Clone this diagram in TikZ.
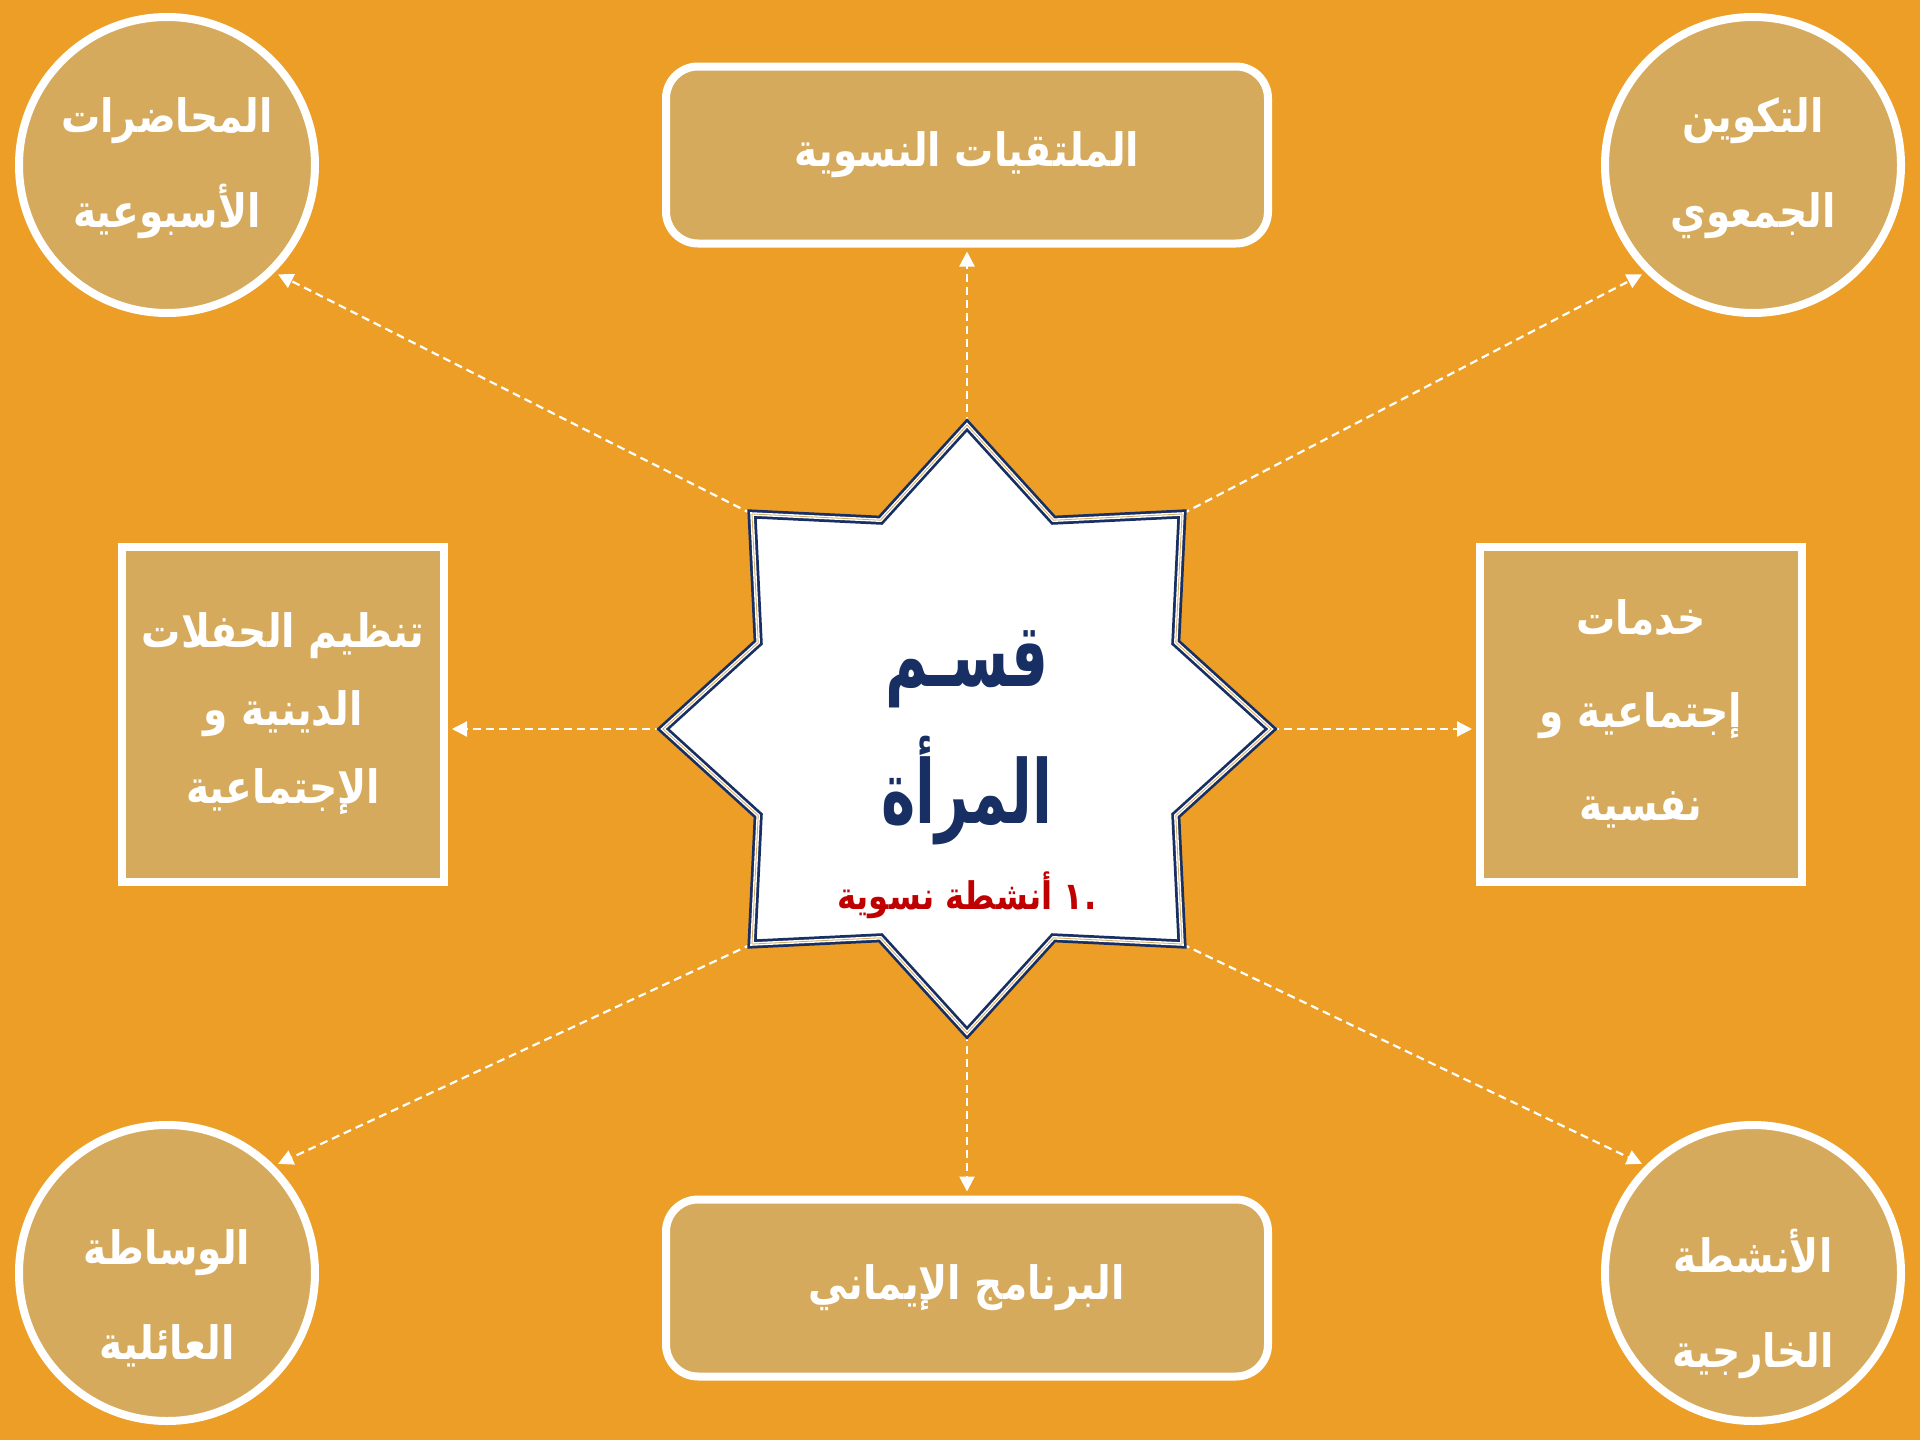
\documentclass[tikz,border=0pt]{standalone}
\usepackage{fontspec}
\newfontfamily\arabicfont[Script=Arabic,FakeStretch=0.85]{DejaVu Sans}
\newfontfamily\titlefont[Script=Arabic,FakeStretch=0.66]{DejaVu Sans}
\TeXXeTstate=1
\usetikzlibrary{arrows.meta}
\definecolor{bgorange}{HTML}{EC9E26}
\definecolor{boxfill}{HTML}{D6AA5C}
\definecolor{starnavy}{HTML}{172F63}
\definecolor{listred}{HTML}{C00000}
\newcommand\myrtl[1]{\beginR #1\endR}
\begin{document}
\begin{tikzpicture}[x=1pt,y=-1pt,
  box/.style={draw=white, line width=8pt, fill=boxfill, text=white,
    font=\arabicfont\bfseries\fontsize{46}{90}\selectfont, align=center, inner sep=0pt},
  circ/.style={box, circle, minimum size=296pt},
  rbox/.style={box, rectangle, rounded corners=32pt, minimum width=602pt, minimum height=177pt},
  sbox/.style={box, rectangle, minimum width=322pt, minimum height=335pt},
  ctext/.style={text=white, font=\arabicfont\bfseries\fontsize{46}{95}\selectfont, align=center, inner sep=0pt},
  title/.style={text=starnavy, font=\titlefont\bfseries\fontsize{88}{96}\selectfont, inner sep=0pt, anchor=base},
  link/.style={draw=white, line width=2.2pt, dash pattern=on 8pt off 5pt, shorten >=4pt,
    -{Triangle[length=15pt,width=15pt]}}
]
\fill[bgorange] (0,0) rectangle (1920,1440);
\useasboundingbox (0,0) rectangle (1920,1440);

% star vertices
\coordinate (stT)  at (967,425);
\coordinate (in1)  at (1053.5,520.2);
\coordinate (stTR) at (1182,514);
\coordinate (in2)  at (1175.8,642.5);
\coordinate (stR)  at (1271,729);
\coordinate (in3)  at (1175.8,815.5);
\coordinate (stBR) at (1182,944);
\coordinate (in4)  at (1053.5,937.8);
\coordinate (stB)  at (967,1033);
\coordinate (in5)  at (880.5,937.8);
\coordinate (stBL) at (752,944);
\coordinate (in6)  at (758.2,815.5);
\coordinate (stL)  at (663,729);
\coordinate (in7)  at (758.2,642.5);
\coordinate (stTL) at (752,514);
\coordinate (in8)  at (880.5,520.2);

% boxes
\node[rbox] (top) at (967,155) {\myrtl{الملتقيات النسوية}};
\node[rbox] (bot) at (967,1288) {\myrtl{البرنامج الإيماني}};
\node[sbox, font=\arabicfont\bfseries\fontsize{46}{78}\selectfont] (left) at (283,714)
  {\myrtl{تنظيم الحفلات}\\\myrtl{الدينية و}\\\myrtl{الإجتماعية}};
\node[sbox, font=\arabicfont\bfseries\fontsize{46}{93}\selectfont] (right) at (1641,714)
  {\myrtl{خدمات}\\\myrtl{إجتماعية و}\\\myrtl{نفسية}};

\node[circ] (ctl) at (167,165) {};
\node[circ] (ctr) at (1753,165) {};
\node[circ] (cbl) at (167,1273) {};
\node[circ] (cbr) at (1753,1273) {};

\node[ctext] (ttl) at (167,168) {\myrtl{المحاضرات}\\\myrtl{الأسبوعية}};
\node[ctext] (ttr) at (1753,168) {\myrtl{التكوين}\\\myrtl{الجمعوي}};
\node[ctext] (tbl) at (167,1298) {\myrtl{الوساطة}\\\myrtl{العائلية}};
\node[ctext] (tbr) at (1753,1304) {\myrtl{الأنشطة}\\\myrtl{الخارجية}};

% connectors
\draw[link] (stT) -- (top.south);
\draw[link] (stB) -- (bot.north);
\draw[link] (stL) -- (stL -| left.east);
\draw[link] (stR) -- (stR -| right.west);
\draw[link] (stTL) -- (ctl.south east);
\draw[link] (stTR) -- (ctr.south west);
\draw[link] (stBL) -- (cbl.north east);
\draw[link] (stBR) -- (cbr.north west);

% star
\draw[starnavy, line width=9pt, fill=white, line join=miter,
  postaction={draw=white, line width=3.5pt, line join=miter},
  postaction={draw=boxfill, line width=0.8pt, line join=miter}]
  (stT) -- (in1) -- (stTR) -- (in2) -- (stR) -- (in3) -- (stBR) -- (in4) --
  (stB) -- (in5) -- (stBL) -- (in6) -- (stL) -- (in7) -- (stTL) -- (in8) -- cycle;

\node[title] (t1) at (967,686) {قسـم};
\node[title] (t2) at (967,823) {المرأة};
\node[title, text=listred, font=\arabicfont\bfseries\fontsize{38}{44}\selectfont] (t3) at (967,909)
  {\myrtl{أنشطة نسوية}\ ١\kern1pt.};
\end{tikzpicture}
\end{document}
